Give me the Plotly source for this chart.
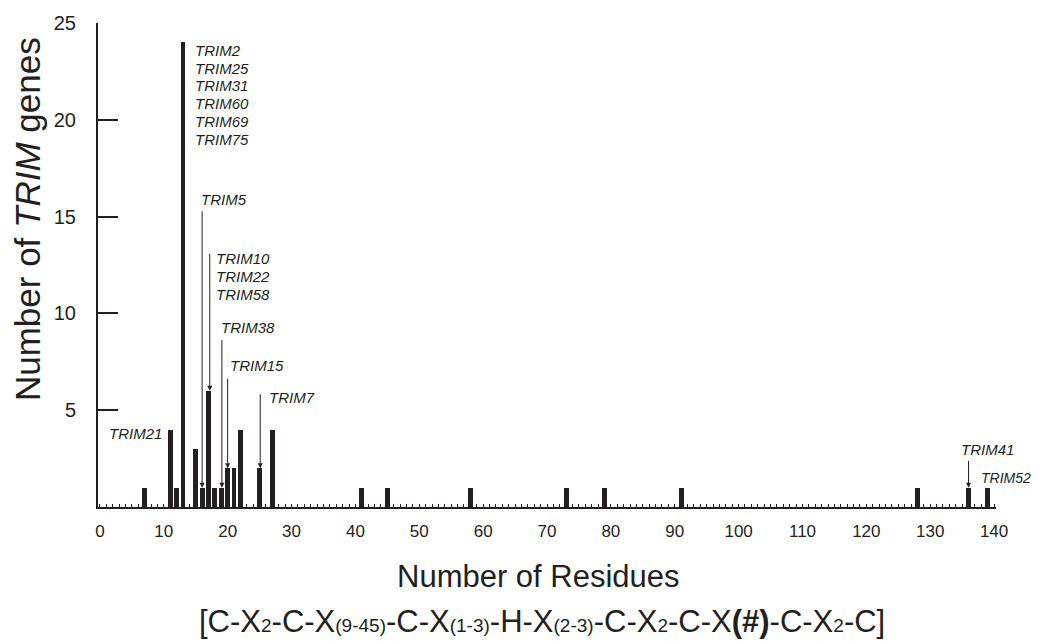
import plotly.graph_objects as go

# Data
residues = [7, 11, 12, 13, 15, 16, 17, 18, 19, 20, 21, 22, 25, 27,
            41, 45, 58, 73, 79, 91, 128, 136, 139]
counts = [1, 4, 1, 24, 3, 1, 6, 1, 1, 2, 2, 4, 2, 4,
          1, 1, 1, 1, 1, 1, 1, 1, 1]
x_ticks = list(range(0, 141, 10))
y_ticks = [5, 10, 15, 20, 25]

big_labels = ["TRIM2", "TRIM25", "TRIM31", "TRIM60", "TRIM69", "TRIM75"]
mid_labels = ["TRIM10", "TRIM22", "TRIM58"]

FONT = "Arial, Liberation Sans, Helvetica, sans-serif"
INK = "#231f20"

fig = go.Figure()
fig.add_trace(go.Bar(x=residues, y=counts, width=0.75,
                     marker=dict(color=INK, line=dict(width=0))))

ann = []
def label(text, x, y, xanchor="left", size=15):
    ann.append(dict(x=x, y=y, xref="x", yref="y", text="<i>%s</i>" % text,
                    showarrow=False, xanchor=xanchor, yanchor="middle",
                    font=dict(family=FONT, size=size, color=INK)))

def arrow(x, y_tip, y_tail):
    ann.append(dict(x=x, y=y_tip, ax=x, ay=y_tail, xref="x", yref="y",
                    axref="x", ayref="y", text="", showarrow=True,
                    arrowhead=2, arrowsize=1.0, arrowwidth=1,
                    arrowcolor=INK, standoff=0, startstandoff=0))

for i, t in enumerate(big_labels):
    label(t, 14.5, 23.6 - i * 0.925)
label("TRIM5", 15.5, 15.9)
arrow(16, counts[residues.index(16)], 15.35)
for i, t in enumerate(mid_labels):
    label(t, 17.8, 12.85 - i * 0.925)
arrow(17.2, counts[residues.index(17)], 13.15)
label("TRIM38", 18.7, 9.25)
arrow(19.1, counts[residues.index(19)], 8.7)
label("TRIM15", 20.0, 7.3)
arrow(20, counts[residues.index(20)], 6.7)
label("TRIM7", 26.1, 5.66)
arrow(25.1, counts[residues.index(25)], 5.9)
label("TRIM21", 10.0, 3.8, xanchor="right")
label("TRIM41", 134.5, 2.98, xanchor="left")
arrow(136, counts[residues.index(136)], 2.46)
label("TRIM52", 137.6, 1.5, size=14)

# axis titles
ann.append(dict(x=-0.079, y=0.595, xref="paper", yref="paper",
                text="Number of <i>TRIM</i> genes", textangle=-90,
                showarrow=False, xanchor="center", yanchor="middle",
                font=dict(family=FONT, size=35, color=INK)))
ann.append(dict(x=0.49, y=-0.144, xref="paper", yref="paper",
                text="Number of Residues", showarrow=False,
                xanchor="center", yanchor="middle",
                font=dict(family=FONT, size=31, color=INK)))

def sub(s):
    return '<span style="font-size:19px">%s</span>' % s

formula = ("[C-X" + sub("2") + "-C-X" + sub("(9-45)") + "-C-X" + sub("(1-3)")
           + "-H-X" + sub("(2-3)") + "-C-X" + sub("2") + "-C-X<b>(#)</b>-C-X"
           + sub("2") + "-C]")
ann.append(dict(x=0.494, y=-0.236, xref="paper", yref="paper",
                text=formula, showarrow=False,
                xanchor="center", yanchor="middle",
                font=dict(family=FONT, size=31, color=INK)))

fig.update_layout(
    width=1038, height=641,
    margin=dict(l=98, r=42, t=20, b=134),
    paper_bgcolor="white", plot_bgcolor="white",
    showlegend=False, bargap=0,
    annotations=ann,
    xaxis=dict(range=[-0.3, 140.3], tickvals=x_ticks, ticks="inside",
               ticklen=3, tickwidth=1, tickcolor=INK,
               minor=dict(ticks="inside", dtick=1, tick0=0, ticklen=3,
                          tickwidth=1, tickcolor=INK),
               showline=True, linecolor=INK, linewidth=2,
               showgrid=False, zeroline=False,
               tickfont=dict(family=FONT, size=17, color=INK),
               ticklabelstandoff=8),
    yaxis=dict(range=[0, 25], tickvals=y_ticks, ticks="inside",
               ticklen=20, tickwidth=2, tickcolor=INK,
               showline=True, linecolor=INK, linewidth=2,
               showgrid=False, zeroline=False,
               tickfont=dict(family=FONT, size=20, color=INK),
               ticklabelstandoff=16),
)

fig.write_html("out.html",
               config={"displayModeBar": False},
               post_script="document.body.style.margin='0';"
                           "document.body.style.overflow='hidden';")
